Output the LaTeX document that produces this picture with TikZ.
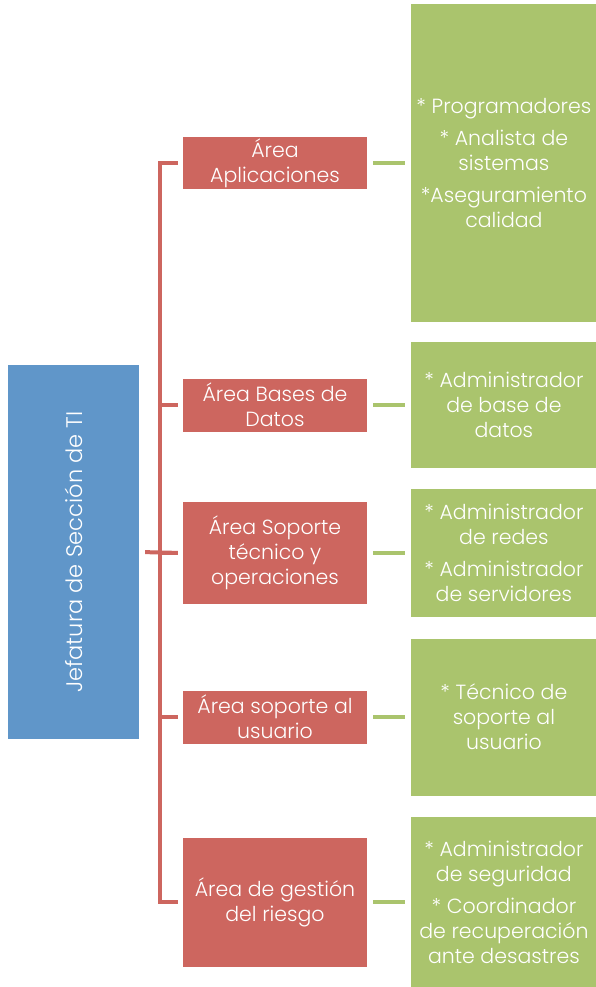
\documentclass[tikz,border=0pt]{standalone}
\usepackage{fontspec}
\setmainfont{Poppins Light}
\usetikzlibrary{positioning}

\definecolor{jefeblue}{HTML}{6096C9}
\definecolor{areared}{HTML}{CD665F}
\definecolor{staffgreen}{HTML}{AAC46D}

\begin{document}
\begin{tikzpicture}[x=1pt,y=-1pt,
    box/.style={inner sep=0pt,text=white,align=center,font=\fontsize{20.5}{25}\selectfont},
    jefe/.style={box,fill=jefeblue,minimum width=131pt,minimum height=374pt},
    area/.style={box,fill=areared,minimum width=184pt},
    staff/.style={box,fill=staffgreen,minimum width=185pt},
    rama/.style={draw=areared,line width=4pt},
    enlace/.style={draw=staffgreen,line width=4pt,shorten <=6pt,shorten >=6pt}] %
    \useasboundingbox (0,0) rectangle (596,987);
    \node[jefe] (jefe) at (73.5,552) {}; %
    \node[box,rotate=90,font=\fontsize{22.5}{27}\selectfont] at (jefe.center) {Jefatura de Sección de TI};
    \node[area,minimum height=52pt] (apl) at (275,163) {Área\\Aplicaciones} ; %
    \node[area,minimum height=53pt] (bd) at (275,405) {Área Bases de\\Datos} ; %
    \node[area,minimum height=102pt] (sop) at (275,553) {Área Soporte\\técnico y\\operaciones};
    \node[area,minimum height=53pt] (usu) at (275,717) {Área soporte al\\usuario};
    \node[area,minimum height=129pt] (riesgo) at (275,902) {Área de gestión\\del riesgo};
    \node[staff,minimum height=317pt,right=44pt of apl] (gapl) {* Programadores\\[7pt]* Analista de\\sistemas\\[7pt]*Aseguramiento\\calidad};
    \node[staff,minimum height=126pt,right=44pt of bd] (gbd) {* Administrador\\de base de\\datos};
    \node[staff,minimum height=128pt,right=44pt of sop] (gsop) {* Administrador\\de redes\\[7pt]* Administrador\\de servidores};
    \node[staff,minimum height=157pt,right=44pt of usu] (gusu) {* Técnico de\\soporte al\\usuario};
    \node[staff,minimum height=171pt,right=44pt of riesgo] (griesgo) {* Administrador\\de seguridad\\[7pt]* Coordinador\\de recuperación\\ante desastres};
    \coordinate (lomo) at (160,552);
    \draw[rama,shorten <=5pt,shorten >=5pt] (apl.west) -- (apl.west -| lomo) -- (riesgo.west -| lomo) -- (riesgo.west);
    \draw[rama,shorten >=5pt] (bd.west -| lomo) -- (bd.west);
    \draw[rama,shorten >=5pt] (sop.west -| lomo) -- (sop.west);
    \draw[rama,shorten >=5pt] (usu.west -| lomo) -- (usu.west);
    \draw[rama,shorten <=6pt,shorten >=5pt] (jefe.east) -- (sop.west);
    \draw[enlace] (apl) -- (gapl);
    \draw[enlace] (bd) -- (gbd);
    \draw[enlace] (sop) -- (gsop);
    \draw[enlace] (usu) -- (gusu);
    \draw[enlace] (riesgo) -- (griesgo);
  \end{tikzpicture}
\end{document}
